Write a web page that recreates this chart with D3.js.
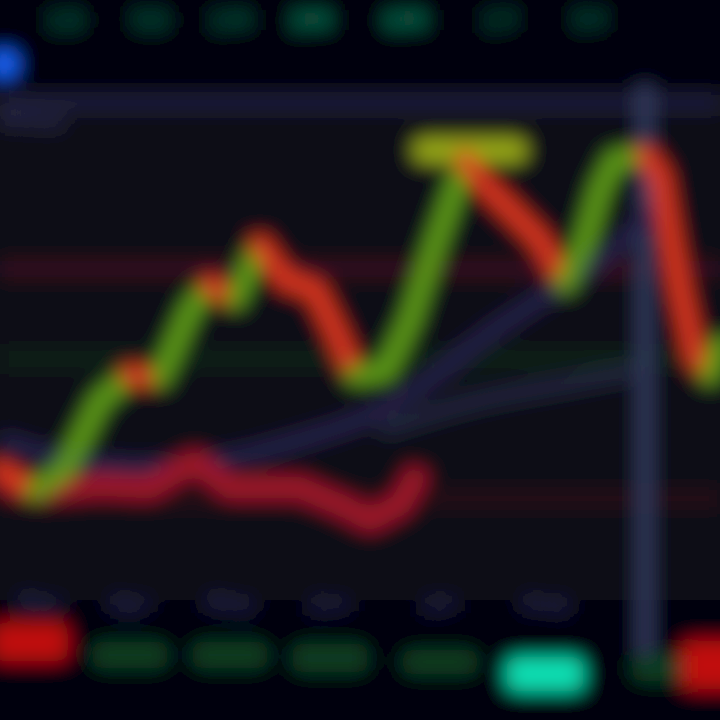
<!DOCTYPE html>
<html><head><meta charset="utf-8">
<script src="https://cdn.jsdelivr.net/npm/d3@7"></script>
<style>html,body{margin:0;padding:0;background:#04040c;}svg{display:block}</style>
</head><body>
<svg id="chart" width="720" height="720"></svg>
<script>
// ---------- data ----------
const rangeTabs = ["1D","5D","1M","3M","6M","1Y","5Y"];
const tabDays   = [6.5, 15, 23, 31, 40.5, 50, 59];

const priceDays = [0,3.5,6.5,10,13,16,19,21,23.5,26,28.5,31.5,33.5,35.5,38.5,41,43.5,45.5,46.5,48.5,51,54,56.5,58.5,60,61.5,64.5,66,67,68,69.5,71,72];
const priceVals = [116.7,114.4,116.7,124.4,127.2,126.9,134.4,137.2,135.6,141.7,137.8,136.7,132.2,127.2,127.6,133.3,141.7,147.8,151.1,148.3,145.6,142.2,137.4,142.2,147.8,151.1,151.7,149.4,142.8,136.7,129.4,127.2,130.6];

const lowDays = [0,4,10,15,19.5,23,30,34,37,40,42];
const lowVals = [115.6,114.4,115.0,114.7,117.6,114.7,114.7,112.8,111.1,112.8,116.7];

const maDays = [0,5,10,16,22,30,38,43,48,54,60,64,66];
const maVals = [120.0,118.3,117.2,117.0,117.8,120.0,123.3,126.7,131.1,135.6,140.0,143.9,146.0];

const ma2Days = [38,48,56,64];
const ma2Vals = [121.1,124.4,126.1,127.8];

const levels = [
  {name:"resistance", price:139.0, color:"#360a1c"},
  {name:"pivot",      price:129.0, color:"#0b2212"},
  {name:"support",    price:113.5, color:"#280a18"}
];
const peakPrice = 152.2, peakFrom = 42, peakTo = 52;
const cursorDay = 64.5;

const volDays  = [3, 13, 23, 33, 44, 54.5, 67, 72];
const volVals  = [34, 24, 24, 26, 22, 30, 24, 44];
const volMid   = [642, 655, 655, 658, 662, 674, 668, 665];
const volUp    = [false,true,true,true,true,true,true,false];

const tickDays   = [4, 13, 23, 33, 44, 54.5];
const tickLabels = ["Mar","Apr","May","Jun","Jul","Aug"];

// ---------- scales ----------
const W = 720, H = 720;
const x = d3.scaleLinear().domain([0,72]).range([0,720]);
const y = d3.scaleLinear().domain([100,160]).range([620,80]);
const vh = d3.scaleLinear().domain([0,40]).range([0,44]);

const svg = d3.select("#chart");
svg.append("rect").attr("width",W).attr("height",H).attr("fill","#04040c");

const defs = svg.append("defs");
const f = defs.append("filter").attr("id","blur")
  .attr("x",-0.1).attr("y",-0.1).attr("width",1.2).attr("height",1.2);
f.append("feGaussianBlur").attr("stdDeviation",9.5);

const g = svg.append("g").attr("filter","url(#blur)");
g.append("rect").attr("x",-40).attr("y",-40).attr("width",W+80).attr("height",H+80).attr("fill","#04040c");
g.append("rect").attr("x",-40).attr("y",90).attr("width",W+80).attr("height",510).attr("fill","#070716");

// top tabs
g.selectAll("text.tab").data(rangeTabs).join("text")
  .attr("class","tab").attr("x",(d,i)=>x(tabDays[i])).attr("y",30)
  .attr("text-anchor","middle").attr("font-family","DejaVu Sans").attr("font-weight","bold")
  .attr("font-size",26).attr("fill",(d,i)=> i===3||i===4 ? "#0c6e52" : "#0a4c3a").text(d=>d);
g.append("circle").attr("cx",x(0.4)).attr("cy",64).attr("r",14).attr("fill","#1a66ff");
g.append("text").attr("x",2).attr("y",128).attr("font-family","DejaVu Sans").attr("font-size",22)
  .attr("font-weight","bold").attr("fill","#34345a").text("Price");

// top border
g.append("line").attr("x1",0).attr("x2",W).attr("y1",y(157.5)).attr("y2",y(157.5))
  .attr("stroke","#222240").attr("stroke-width",14);

// levels
g.selectAll("line.lvl").data(levels).join("line").attr("class","lvl")
  .attr("x1",0).attr("x2",W).attr("y1",d=>y(d.price)).attr("y2",d=>y(d.price))
  .attr("stroke",d=>d.color).attr("stroke-width",18);

// x axis labels
const xAxis = d3.axisBottom(x).tickValues(tickDays).tickFormat((d,i)=>tickLabels[i]).tickSize(0);
const ax = g.append("g").attr("transform","translate(0,592)").call(xAxis);
ax.select(".domain").remove();
ax.selectAll("text").attr("font-size",22).attr("font-weight","bold").attr("fill","#2c2c52").attr("font-family","DejaVu Sans");

// cursor vertical line
g.append("line").attr("x1",x(cursorDay)).attr("x2",x(cursorDay)).attr("y1",85).attr("y2",660)
  .attr("stroke","#343c60").attr("stroke-width",14);

// MA lines
const line = d3.line().x(d=>x(d[0])).y(d=>y(d[1])).curve(d3.curveMonotoneX);
g.append("path").datum(ma2Days.map((d,i)=>[d,ma2Vals[i]])).attr("d",line)
  .attr("fill","none").attr("stroke","#24283e").attr("stroke-width",16);
g.append("path").datum(maDays.map((d,i)=>[d,maVals[i]])).attr("d",line)
  .attr("fill","none").attr("stroke","#26224a").attr("stroke-width",16);

// low (red) series
g.append("path").datum(lowDays.map((d,i)=>[d,lowVals[i]])).attr("d",d3.line().x(d=>x(d[0])).y(d=>y(d[1])))
  .attr("fill","none").attr("stroke","#a0122c").attr("stroke-width",22).attr("stroke-linejoin","round");

// peak marker
g.append("line").attr("x1",x(peakFrom)+5).attr("x2",x(peakTo)-5).attr("y1",y(peakPrice)).attr("y2",y(peakPrice))
  .attr("stroke","#98a812").attr("stroke-width",24).attr("stroke-linecap","round");

// main price: coloured by direction
const segs = d3.pairs(priceDays.map((d,i)=>[d,priceVals[i]]));
g.selectAll("line.seg").data(segs).join("line").attr("class","seg")
  .attr("x1",d=>x(d[0][0])).attr("y1",d=>y(d[0][1]))
  .attr("x2",d=>x(d[1][0])).attr("y2",d=>y(d[1][1]))
  .attr("stroke",d=> d[1][1]>=d[0][1] ? "#5e9c12" : "#dc381c")
  .attr("stroke-width",19).attr("stroke-linecap","round");

// volume blobs
g.selectAll("rect.vol").data(volVals).join("rect").attr("class","vol")
  .attr("x",(d,i)=>x(volDays[i])-38).attr("width",76)
  .attr("y",(d,i)=>volMid[i] - vh(d)/2).attr("height",d=>vh(d))
  .attr("rx",10)
  .attr("fill",(d,i)=> volUp[i] ? (i===5 ? "#10e0b4" : "#083c22") : "#c00808");
</script>
</body></html>
